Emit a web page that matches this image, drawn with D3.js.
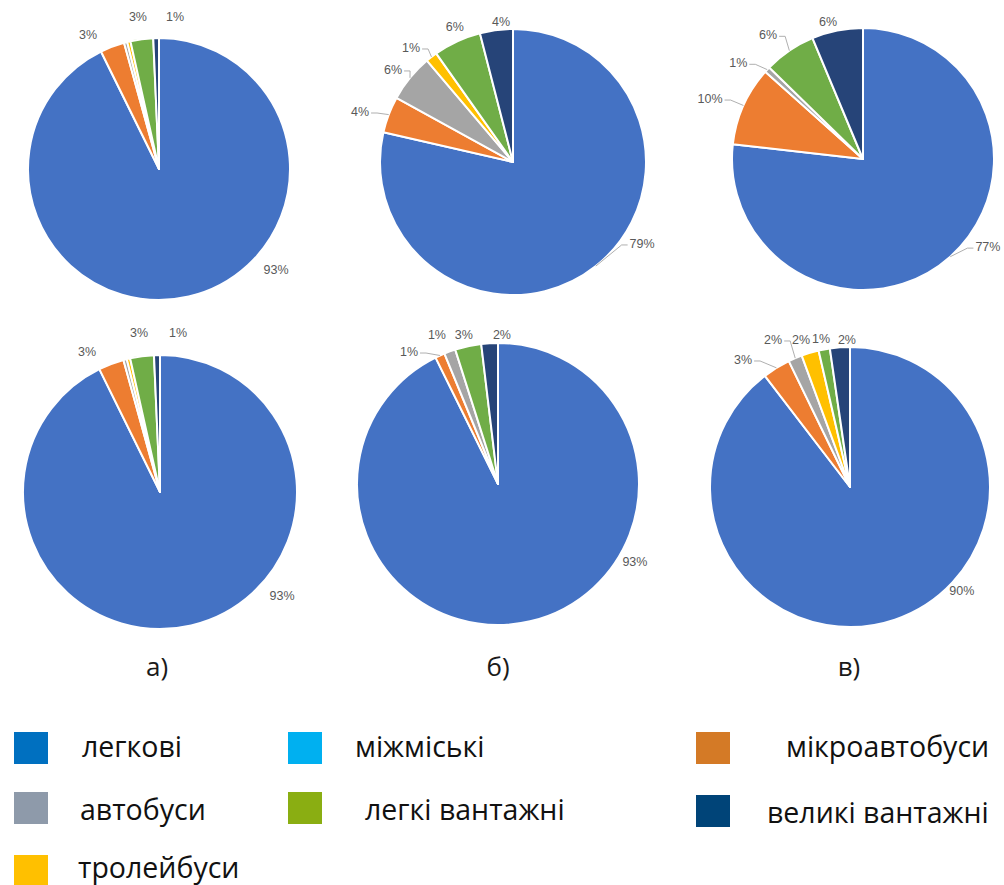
<!DOCTYPE html>
<html>
<head>
<meta charset="utf-8">
<script src="https://cdn.jsdelivr.net/npm/d3@7"></script>
<style>
  html, body { margin: 0; padding: 0; background: #ffffff; }
  svg { display: block; }
</style>
</head>
<body>
<svg id="chart" width="1004" height="885"></svg>
<script>
// Vehicle categories shown in the pies, in drawing order (clockwise from 12 o'clock)
const categories = ["легкові", "мікроавтобуси", "автобуси", "тролейбуси", "легкі вантажні", "великі вантажні"];
const sliceColors = ["#4472C4", "#ED7D31", "#A5A5A5", "#FFC000", "#70AD47", "#264478"];

// Shares of traffic, % (top row / bottom row, panels а, б, в)
const valuesTopA    = [92.7, 3.0, 0.4, 0.4, 2.8, 0.7];
const valuesTopB    = [78.6, 4.4, 5.8, 1.4, 5.8, 4.0];
const valuesTopC    = [76.8, 9.8, 0.7, 0.0, 6.4, 6.3];
const valuesBottomA = [92.7, 3.0, 0.4, 0.4, 2.8, 0.7];
const valuesBottomB = [92.7, 1.1, 1.3, 0.0, 3.0, 1.9];
const valuesBottomC = [89.6, 3.2, 1.6, 2.0, 1.3, 2.3];

const panelLabels = ["а)", "б)", "в)"];

const legendLabels = ["легкові", "міжміські", "мікроавтобуси", "автобуси", "легкі вантажні", "великі вантажні", "тролейбуси"];
const legendColors = ["#0070C0", "#00B0F0", "#D47A26", "#8E9AAA", "#8AAE12", "#004478", "#FFC000"];

// ---- layout ----
// Label placement per slice: [angle in degrees clockwise from 12 o'clock, distance as a multiple of radius, leader line]
const pies = [
  { values: valuesTopA, cx: 159, cy: 169, r: 131,
    labels: [[130.8, 1.18, 0], [332.1, 1.157, 0], null, null, [352.1, 1.17, 0], [6.0, 1.167, 0]] },
  { values: valuesTopB, cx: 513, cy: 162, r: 133,
    labels: [[122.4, 1.15, 1], [288.1, 1.21, 1], [307.5, 1.137, 1], [318.2, 1.15, 1], [336.7, 1.105, 0], [355.1, 1.056, 0]] },
  { values: valuesTopC, cx: 863, cy: 159, r: 131,
    labels: [[125.2, 1.167, 1], [291.4, 1.254, 1], [307.5, 1.2, 1], null, [322.5, 1.19, 1], [345.7, 1.08, 0]] },
  { values: valuesBottomA, cx: 160, cy: 492, r: 137,
    labels: [[130.4, 1.17, 0], [332.5, 1.153, 0], null, null, [352.5, 1.17, 0], [6.5, 1.168, 0]] },
  { values: valuesBottomB, cx: 498, cy: 484, r: 141,
    labels: [[119.7, 1.118, 0], [326.0, 1.129, 1], [337.7, 1.142, 0], null, [347.1, 1.084, 0], [1.5, 1.057, 0]] },
  { values: valuesBottomC, cx: 850, cy: 487, r: 140,
    labels: [[132.9, 1.09, 0], [319.9, 1.186, 1], [332.4, 1.185, 1], [341.6, 1.107, 0], [348.9, 1.077, 0], [358.8, 1.05, 0]] }
];

const panelLabelX = [157, 498, 849];
const panelLabelY = 676;

// Legend cells: swatch left/top, text left/baseline
const legendCells = [
  { sx: 14,  sy: 732, tx: 82,  ty: 757 },
  { sx: 288, sy: 732, tx: 355, ty: 757 },
  { sx: 696, sy: 732, tx: 786, ty: 757 },
  { sx: 14,  sy: 792, tx: 80,  ty: 820 },
  { sx: 288, sy: 792, tx: 365, ty: 820 },
  { sx: 696, sy: 795, tx: 767, ty: 823 },
  { sx: 14,  sy: 855, tx: 78,  ty: 878 }
];

const svg = d3.select("#chart");
const color = d3.scaleOrdinal().domain(categories).range(sliceColors);
const pie = d3.pie().sort(null).value(d => d.value);
const rad = deg => deg * Math.PI / 180;

pies.forEach(p => {
  const data = categories.map((c, i) => ({ cat: c, value: p.values[i], place: p.labels[i] }));
  const total = d3.sum(data, d => d.value);
  const arcs = pie(data);
  const arc = d3.arc().innerRadius(0).outerRadius(p.r);
  const g = svg.append("g").attr("transform", `translate(${p.cx},${p.cy})`);

  g.selectAll("path.slice")
    .data(arcs.filter(a => a.data.value > 0))
    .join("path")
    .attr("class", "slice")
    .attr("d", arc)
    .attr("fill", a => color(a.data.cat))
    .attr("stroke", "#ffffff")
    .attr("stroke-width", 2)
    .attr("stroke-linejoin", "round");

  const labelled = arcs.filter(a => a.data.place && Math.round(a.data.value / total * 100) >= 1);

  labelled.forEach(a => {
    const [ang, k, leader] = a.data.place;
    const lx = p.r * k * Math.sin(rad(ang));
    const ly = -p.r * k * Math.cos(rad(ang));
    const text = g.append("text")
      .attr("x", lx).attr("y", ly)
      .attr("text-anchor", "middle")
      .attr("dominant-baseline", "central")
      .attr("font-family", "'Liberation Sans', Arial, sans-serif")
      .attr("font-size", 12.5)
      .attr("fill", "#595959")
      .text(Math.round(a.data.value / total * 100) + "%");

    if (leader) {
      const w = text.node().getComputedTextLength();
      const mid = (a.startAngle + a.endAngle) / 2;
      const ex = p.r * Math.sin(mid), ey = -p.r * Math.cos(mid);
      const side = lx < 0 ? 1 : -1;
      const endX = lx + side * (w / 2 + 2);
      const pts = [[ex, ey], [endX + side * 6, ly + 1], [endX, ly + 1]];
      g.insert("path", "text")
        .attr("d", d3.line()(pts))
        .attr("fill", "none")
        .attr("stroke", "#A6A6A6")
        .attr("stroke-width", 0.9);
    }
  });
});

// Panel captions
svg.selectAll("text.panel")
  .data(panelLabels)
  .join("text")
  .attr("class", "panel")
  .attr("x", (d, i) => panelLabelX[i])
  .attr("y", panelLabelY)
  .attr("text-anchor", "middle")
  .attr("font-family", "'Open Sans', sans-serif")
  .attr("font-size", 26)
  .attr("fill", "#1a1a1a")
  .text(d => d);

// Legend
const legend = svg.append("g");
legendLabels.forEach((label, i) => {
  const c = legendCells[i];
  legend.append("rect")
    .attr("x", c.sx).attr("y", c.sy)
    .attr("width", 34).attr("height", 32)
    .attr("fill", legendColors[i]);
  legend.append("text")
    .attr("x", c.tx).attr("y", c.ty)
    .attr("font-family", "'Open Sans', sans-serif")
    .attr("font-size", 28.5)
    .attr("fill", "#111111")
    .text(label);
});
</script>
</body>
</html>
